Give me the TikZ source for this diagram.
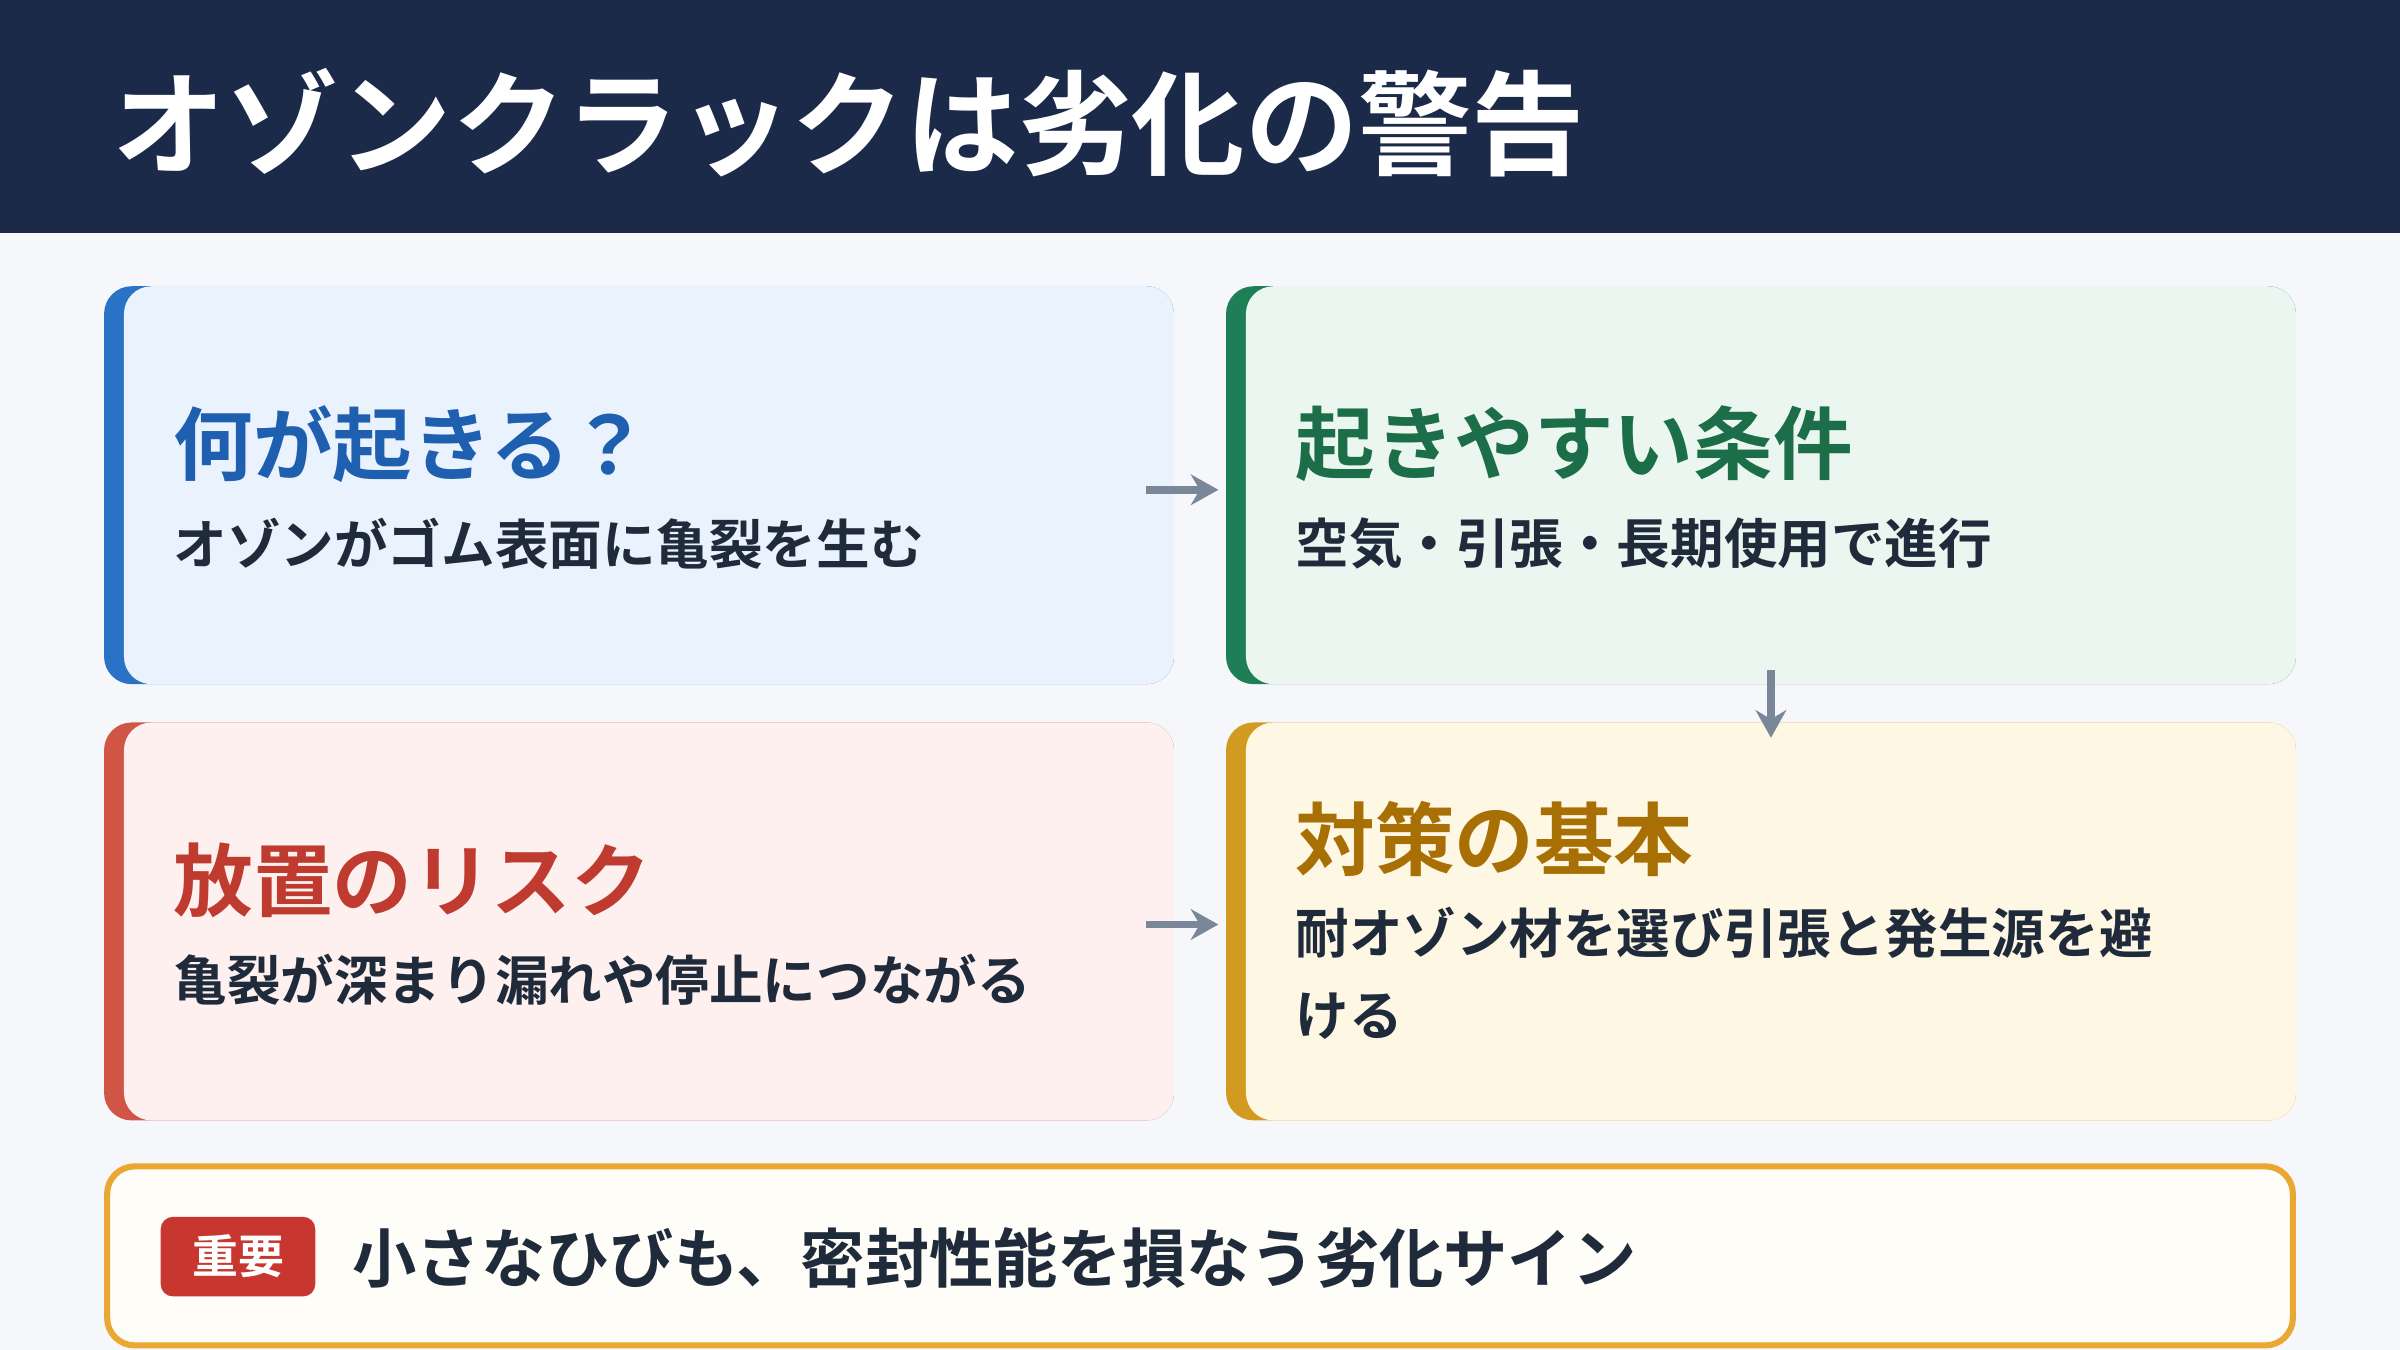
\documentclass[tikz,border=0pt]{standalone}
\usepackage{fontspec}
\setmainfont{Noto Sans CJK JP}[BoldFont={Noto Sans CJK JP Bold}]
\usetikzlibrary{arrows.meta}
\definecolor{navy}{HTML}{1C2A4A}
\definecolor{bg}{HTML}{F5F7FB}
\definecolor{txt}{HTML}{1F2A3A}
\definecolor{arr}{HTML}{7A8799}
\definecolor{bA}{HTML}{2A72C6}\definecolor{fA}{HTML}{EAF2FD}\definecolor{tA}{HTML}{1F5FAF}
\definecolor{bB}{HTML}{1E7E55}\definecolor{fB}{HTML}{EBF6F0}\definecolor{tB}{HTML}{1B6E48}
\definecolor{bC}{HTML}{D05545}\definecolor{fC}{HTML}{FDF0EE}\definecolor{tC}{HTML}{BF3B30}
\definecolor{bD}{HTML}{D39A22}\definecolor{fD}{HTML}{FEF7E4}\definecolor{tD}{HTML}{A86F05}
\definecolor{gold}{HTML}{EAA832}\definecolor{badge}{HTML}{C8372F}
\begin{document}
\begin{tikzpicture}[x=0.5pt,y=-0.5pt,
  ttl/.style={anchor=west,font=\bfseries\fontsize{26}{30}\selectfont,inner sep=0},
  sub/.style={anchor=west,font=\bfseries\fontsize{17.5}{27}\selectfont,text=txt,inner sep=0,align=left},
  ar/.style={arr,line width=2.5pt,-{Stealth[length=9pt,width=10pt]}}]
\fill[bg] (0,0) rectangle (1568,882);
\useasboundingbox (0,0) rectangle (1568,882);
\fill[navy] (0,0) rectangle (1568,152);
\node[anchor=west,text=white,font=\bfseries\fontsize{37}{40}\selectfont,inner sep=0] (title) at (73,80) {オゾンクラックは劣化の警告};
% boxes
\newcommand{\cardbox}[6]{%
 \fill[#5,rounded corners=18*0.5pt] (#1,#2) rectangle (#3,#4);
 \fill[#6,rounded corners=18*0.5pt] (#1+13,#2) rectangle (#3,#4);}
\cardbox{68}{187}{767}{447}{bA}{fA}
\cardbox{801}{187}{1500}{447}{bB}{fB}
\cardbox{68}{472}{767}{732}{bC}{fC}
\cardbox{801}{472}{1500}{732}{bD}{fD}
\node[ttl,text=tA] (t1) at (113,290) {何が起きる？};
\node[sub] (s1) at (113,355) {オゾンがゴム表面に亀裂を生む};
\node[ttl,text=tB] (t2) at (846,290) {起きやすい条件};
\node[sub] (s2) at (846,355) {空気・引張・長期使用で進行};
\node[ttl,text=tC] (t3) at (113,575) {放置のリスク};
\node[sub] (s3) at (113,640) {亀裂が深まり漏れや停止につながる};
\node[ttl,text=tD] (t4) at (846,548) {対策の基本};
\node[sub,anchor=north west] (s4) at (846,592) {耐オゾン材を選び引張と発生源を避\\ける};
\coordinate (a1s) at (749,320); \coordinate (a1e) at (796,320);
\coordinate (a2s) at (1157,438); \coordinate (a2e) at (1157,482);
\coordinate (a3s) at (749,604); \coordinate (a3e) at (796,604);
\draw[ar] (a1s) -- (a1e);
\draw[ar] (a2s) -- (a2e);
\draw[ar] (a3s) -- (a3e);
% bottom
\draw[gold,fill=white!70!fD,line width=2pt,rounded corners=18*0.5pt] (70,762) rectangle (1498,879);
\node[fill=badge,rounded corners=4pt,text=white,font=\bfseries\fontsize{15}{18}\selectfont,minimum width=50.5pt,minimum height=26pt,inner sep=0] (badge) at (155.5,821) {重要};
\node[anchor=west,text=txt,font=\bfseries\fontsize{21}{24}\selectfont,inner sep=0] (note) at (230,822) {小さなひびも、密封性能を損なう劣化サイン};
\end{tikzpicture}
\end{document}
